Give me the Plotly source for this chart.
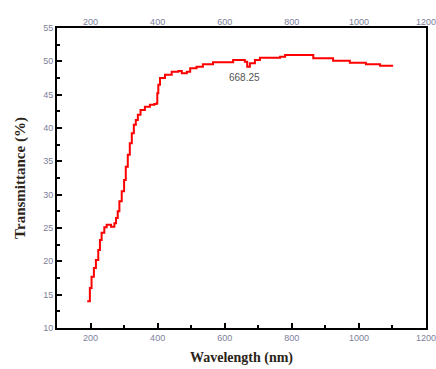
import plotly.graph_objects as go

wavelength = [190, 198, 203, 210, 216, 223, 228, 233, 241, 248, 261, 271, 276, 281, 286, 293, 300, 305,
              311, 317, 323, 329, 335, 341, 349, 362, 377, 390, 397, 399, 402, 407, 422, 442, 462, 472,
              487, 497, 516, 535, 565, 625, 660, 667, 675, 690, 705, 765, 780, 864, 923, 973, 1021, 1063, 1102]
transmittance = [14.0, 16.0, 17.7, 19.0, 20.2, 21.7, 23.2, 24.3, 25.1, 25.5, 25.2, 25.7, 26.5, 27.5, 29.0,
                 30.5, 32.2, 34.2, 36.0, 37.7, 39.2, 40.5, 41.2, 42.0, 42.7, 43.2, 43.5, 43.6, 43.7, 45.2,
                 46.5, 47.5, 48.0, 48.45, 48.55, 48.2, 48.45, 48.95, 49.2, 49.55, 49.85, 50.2, 49.95, 49.2,
                 49.7, 50.2, 50.55, 50.7, 50.95, 50.45, 50.1, 49.8, 49.55, 49.35, 49.35]
peak_label = "668.25"
peak_xy = (660, 47.6)
x_ticks = [200, 400, 600, 800, 1000, 1200]
y_ticks = [10, 15, 20, 25, 30, 35, 40, 45, 50, 55]

tickfont = dict(family="Liberation Sans, Arial", size=9, color="#7c809a")
xtitlefont = dict(family="Liberation Serif, Times New Roman", size=14, color="#2b2418")
ytitlefont = dict(family="Liberation Serif, Times New Roman", size=15, color="#2b2418")

fig = go.Figure()
fig.add_trace(go.Scatter(x=wavelength, y=transmittance, mode="lines", line=dict(color="#ff0000", width=2, shape="hv"),
                         showlegend=False))
fig.add_trace(go.Scatter(x=wavelength, y=transmittance, mode="lines", xaxis="x2",
                         line=dict(color="rgba(0,0,0,0)", width=0), showlegend=False, hoverinfo="skip"))

axis_common = dict(showline=True, linecolor="black", linewidth=2, ticks="inside", ticklen=5, tickwidth=1.5,
                   tickcolor="black", showgrid=False, zeroline=False, tickfont=tickfont, automargin=False,
                   ticklabeloverflow="allow",
                   minor=dict(ticks="inside", ticklen=3, tickwidth=1.5, tickcolor="black"))

fig.update_layout(
    width=436, height=369,
    margin=dict(l=57, r=10, t=28, b=41),
    plot_bgcolor="white", paper_bgcolor="white",
    xaxis=dict(range=[100, 1200], tickvals=x_ticks, mirror=True, title=dict(text="<b>Wavelength (nm)</b>", font=xtitlefont, standoff=10),
               minor_dtick=100, **axis_common),
    xaxis2=dict(range=[100, 1200], tickvals=x_ticks, overlaying="x", side="top", showline=False, ticks="",
                showgrid=False, zeroline=False, tickfont=tickfont, automargin=False, ticklabeloverflow="allow"),
    yaxis=dict(range=[10, 55], tickvals=y_ticks, mirror=True, title=dict(text="<b>Transmittance (%)</b>", font=ytitlefont, standoff=14),
               minor_dtick=2.5, **axis_common),
    annotations=[dict(x=peak_xy[0], y=peak_xy[1], text=peak_label, showarrow=False,
                      font=dict(family="Liberation Sans, Arial", size=10, color="#555"))],
)
fig.write_html("out.html")
